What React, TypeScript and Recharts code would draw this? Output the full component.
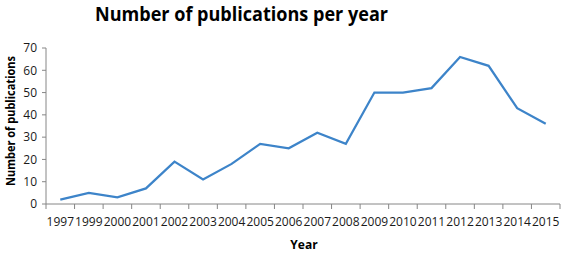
import { LineChart, Line, XAxis, YAxis } from "recharts"

const years = ["1997", "1999", "2000", "2001", "2002", "2003", "2004", "2005", "2006", "2007", "2008", "2009", "2010", "2011", "2012", "2013", "2014", "2015"]
const publications = [2, 5, 3, 7, 19, 11, 18, 27, 25, 32, 27, 50, 50, 52, 66, 62, 43, 36]
const yTicks = [0, 10, 20, 30, 40, 50, 60, 70]

const data = years.map((year, i) => ({ year, count: publications[i] }))

const font = "'Open Sans', sans-serif"
const axisGray = "#868686"
const halfBand = 514 / years.length / 2

// Excel-style ticks: marks sit on category boundaries, labels in the middle
function YearTick(props: any) {
  const { x, y, width, payload, index } = props
  const band = width / years.length
  const axisY = y - 13
  return (
    <g>
      <line x1={x - band / 2} x2={x - band / 2} y1={axisY} y2={axisY + 5} stroke={axisGray} />
      {index === years.length - 1 && (
        <line x1={x + band / 2} x2={x + band / 2} y1={axisY} y2={axisY + 5} stroke={axisGray} />
      )}
      <text x={x} y={y} dy="0.71em" textAnchor="middle" fontFamily={font} fontSize={12} fill="#1a1a1a">
        {payload.value}
      </text>
    </g>
  )
}

export default function App() {
  return (
    <div style={{ position: "absolute", left: 0, top: 0, width: 567, height: 254, background: "#fff" }}>
      <LineChart width={567} height={254} data={data} margin={{ top: 48, right: 7, bottom: 25, left: 16 }}>
        <XAxis
          dataKey="year"
          interval={0}
          height={25}
          padding={{ left: halfBand, right: halfBand }}
          tickLine={false}
          tickSize={5}
          tickMargin={8}
          stroke={axisGray}
          tick={<YearTick />}
        />
        <YAxis
          width={30}
          domain={[0, 70]}
          ticks={yTicks}
          tickSize={4}
          tickMargin={5}
          stroke={axisGray}
          tick={{ fontFamily: font, fontSize: 12, fill: "#1a1a1a" }}
        />
        <Line
          type="linear"
          dataKey="count"
          stroke="#3d84c9"
          strokeWidth={2.25}
          dot={false}
          isAnimationActive={false}
        />
      </LineChart>
      <svg width={567} height={254} style={{ position: "absolute", left: 0, top: 0, pointerEvents: "none" }}>
        <text x={241.5} y={21} textAnchor="middle" fontFamily={font} fontWeight="bold" fontSize={19} fill="#000" textLength={293} lengthAdjust="spacingAndGlyphs">
          Number of publications per year
        </text>
        <text transform="translate(15,121) rotate(-90)" textAnchor="middle" fontFamily={font} fontWeight="bold" fontSize={12} fill="#000" textLength={130} lengthAdjust="spacingAndGlyphs">
          Number of publications
        </text>
        <text x={304} y={249} textAnchor="middle" fontFamily={font} fontWeight="bold" fontSize={12} fill="#000">
          Year
        </text>
      </svg>
    </div>
  )
}
